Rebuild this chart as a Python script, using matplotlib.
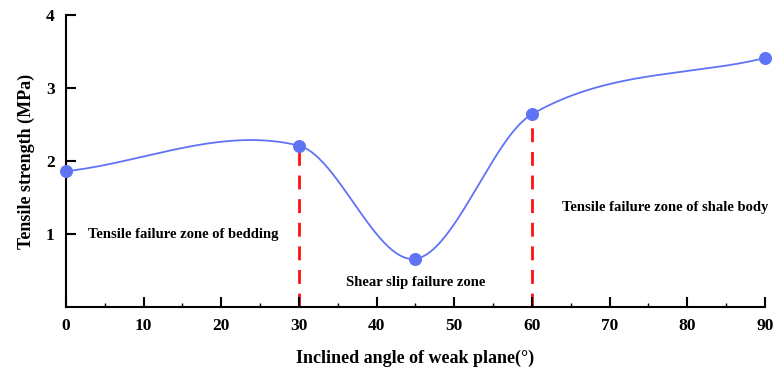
import numpy as np
import matplotlib
matplotlib.use("Agg")
import matplotlib.pyplot as plt
from matplotlib.ticker import MultipleLocator

angles = [0, 30, 45, 60, 90]
strength = [1.86, 2.21, 0.66, 2.64, 3.41]
zone_lines = [30, 60]
zone_labels = ["Tensile failure zone of bedding",
               "Shear slip failure zone",
               "Tensile failure zone of shale body"]
zone_label_pos = [(15.1, 1.0), (45.0, 0.33), (77.1, 1.36)]


def smooth_curve(x, y, xs):
    # cubic hermite, centred slopes inside, chord slopes at the ends
    x = np.asarray(x, float)
    y = np.asarray(y, float)
    n = len(x)
    t = np.zeros(n)
    t[0] = (y[1] - y[0]) / (x[1] - x[0])
    t[-1] = (y[-1] - y[-2]) / (x[-1] - x[-2])
    for i in range(1, n - 1):
        t[i] = (y[i + 1] - y[i - 1]) / (x[i + 1] - x[i - 1])
    idx = np.clip(np.searchsorted(x, xs) - 1, 0, n - 2)
    h = x[idx + 1] - x[idx]
    s = (xs - x[idx]) / h
    h00 = 2 * s**3 - 3 * s**2 + 1
    h10 = s**3 - 2 * s**2 + s
    h01 = -2 * s**3 + 3 * s**2
    h11 = s**3 - s**2
    return h00 * y[idx] + h10 * h * t[idx] + h01 * y[idx + 1] + h11 * h * t[idx + 1]


plt.rcParams['font.family'] = ['Liberation Serif', 'DejaVu Serif']
plt.rcParams['font.weight'] = 'bold'

fig = plt.figure(figsize=(7.75, 3.74), dpi=100)
ax = fig.add_axes([0.085, 0.179, 0.902, 0.781])

xs = np.linspace(0, 90, 500)
ax.plot(xs, smooth_curve(angles, strength, xs), color='#5F73F5', lw=1.3, zorder=2)

for xv in zone_lines:
    yv = strength[angles.index(xv)]
    ax.plot([xv, xv], [0, yv], color='#FF1010', lw=2, ls=(0, (5, 3.5)), zorder=1)

ax.scatter(angles, strength, s=70, color='#5F73F5', zorder=3, clip_on=False)

for txt, (tx, ty) in zip(zone_labels, zone_label_pos):
    ax.text(tx, ty, txt, ha='center', va='center', fontsize=10.5, fontweight='bold')

ax.set_xlim(0, 90)
ax.set_ylim(0, 4)
ax.set_xticks(range(0, 91, 10))
ax.xaxis.set_minor_locator(MultipleLocator(5))
ax.set_yticks([1, 2, 3, 4])
ax.spines['top'].set_visible(False)
ax.spines['right'].set_visible(False)
ax.spines['left'].set_linewidth(1.5)
ax.spines['bottom'].set_linewidth(1.5)
ax.tick_params(axis='both', which='major', direction='in', length=7, width=1.5,
               labelsize=12.5, pad=8)
ax.tick_params(axis='x', which='minor', direction='in', length=3, width=1)
ax.set_xlabel("Inclined angle of weak plane(°)", fontsize=13, fontweight='bold', labelpad=11)
ax.set_ylabel("Tensile strength (MPa)", fontsize=13, fontweight='bold', labelpad=8)

fig.savefig("out.png", dpi=100)
